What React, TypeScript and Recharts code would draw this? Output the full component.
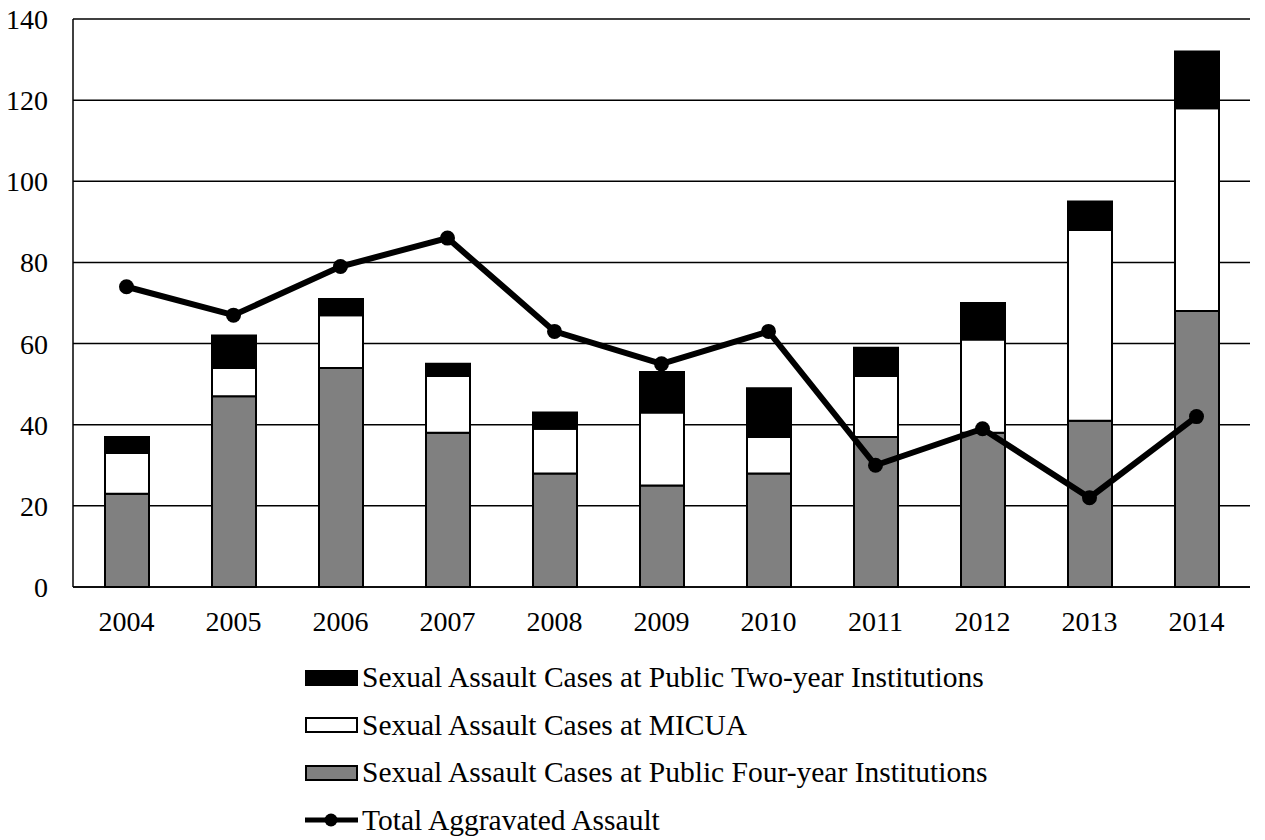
import React from 'react';
import { ComposedChart, Bar, Line, XAxis, YAxis, CartesianGrid, Legend } from 'recharts';

const years = ['2004', '2005', '2006', '2007', '2008', '2009', '2010', '2011', '2012', '2013', '2014'];
const fourYear = [23, 47, 54, 38, 28, 25, 28, 37, 38, 41, 68];
const micua = [10, 7, 13, 14, 11, 18, 9, 15, 23, 47, 50];
const twoYear = [4, 8, 4, 3, 4, 10, 12, 7, 9, 7, 14];
const aggravated = [74, 67, 79, 86, 63, 55, 63, 30, 39, 22, 42];
const yTicks = [0, 20, 40, 60, 80, 100, 120, 140];

const data = years.map((year, i) => ({
  year,
  fourYear: fourYear[i],
  micua: micua[i],
  twoYear: twoYear[i],
  aggravated: aggravated[i],
}));

const font = '"Liberation Serif", "Times New Roman", serif';

const legendItems = [
  { label: 'Sexual Assault Cases at Public Two-year Institutions', kind: 'bar', fill: '#000000' },
  { label: 'Sexual Assault Cases at MICUA', kind: 'bar', fill: '#ffffff' },
  { label: 'Sexual Assault Cases at Public Four-year Institutions', kind: 'bar', fill: '#808080' },
  { label: 'Total Aggravated Assault', kind: 'line', fill: '#000000' },
];

function LegendBox() {
  return (
    <div style={{ paddingLeft: 305, fontFamily: font, fontSize: 29.5, color: '#000', lineHeight: 1 }}>
      {legendItems.map((item) => (
        <div key={item.label} style={{ height: 47.5, display: 'flex', alignItems: 'center' }}>
          <svg width={57} height={20} style={{ flexShrink: 0 }}>
            {item.kind === 'bar' ? (
              <rect x={1} y={3} width={51} height={14} fill={item.fill} stroke="#000" strokeWidth={2} />
            ) : (
              <g>
                <line x1={0} y1={10} x2={53} y2={10} stroke="#000" strokeWidth={5} />
                <circle cx={26} cy={10} r={6.5} fill="#000" />
              </g>
            )}
          </svg>
          <span>{item.label}</span>
        </div>
      ))}
    </div>
  );
}

export default function App() {
  return (
    <div style={{ position: 'absolute', left: 0, top: 0, width: 1265, height: 840, background: '#fff' }}>
      <ComposedChart
        width={1265}
        height={840}
        data={data}
        margin={{ top: 19, right: 15, left: 0, bottom: 10 }}
        barSize={44}
      >
        <CartesianGrid vertical={false} stroke="#000" strokeWidth={1.5} />
        <XAxis
          dataKey="year"
          axisLine={{ stroke: '#000', strokeWidth: 1.5 }}
          tickLine={false}
          tickSize={0}
          tickMargin={24}
          height={50}
          tick={{ fill: '#000', fontFamily: font, fontSize: 28 }}
        />
        <YAxis
          domain={[0, 140]}
          ticks={yTicks}
          width={73}
          axisLine={{ stroke: '#000', strokeWidth: 1.5 }}
          tickLine={false}
          tickSize={0}
          tickMargin={25}
          tick={{ fill: '#000', fontFamily: font, fontSize: 28 }}
        />
        <Legend
          verticalAlign="bottom"
          content={() => <LegendBox />}
          wrapperStyle={{ left: 0, top: 654, bottom: 'auto', width: 1265, height: 193 }}
        />
        <Bar dataKey="fourYear" stackId="a" fill="#808080" stroke="#000" strokeWidth={2} isAnimationActive={false} />
        <Bar dataKey="micua" stackId="a" fill="#ffffff" stroke="#000" strokeWidth={2} isAnimationActive={false} />
        <Bar dataKey="twoYear" stackId="a" fill="#000000" stroke="#000" strokeWidth={2} isAnimationActive={false} />
        <Line
          dataKey="aggravated"
          stroke="#000"
          strokeWidth={6}
          dot={{ r: 7.5, fill: '#000', stroke: '#000', strokeWidth: 0 }}
          isAnimationActive={false}
        />
      </ComposedChart>
    </div>
  );
}
